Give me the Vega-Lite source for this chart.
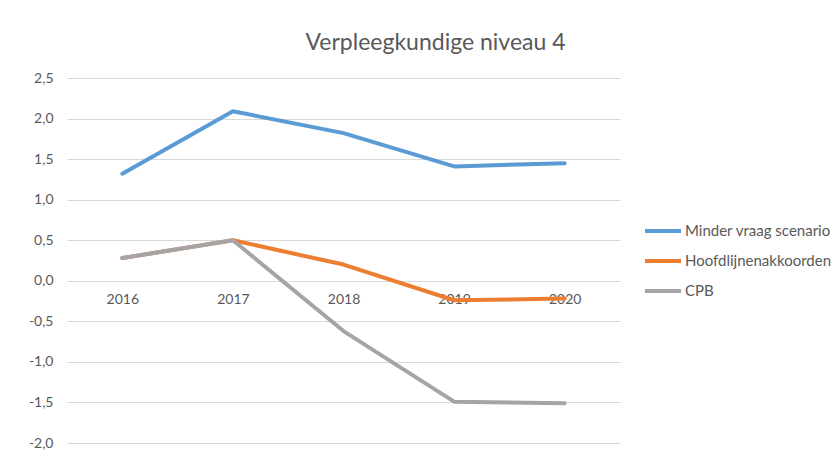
{
  "$schema": "https://vega.github.io/schema/vega-lite/v6.json",
  "width": 553,
  "height": 365,
  "autosize": "none",
  "padding": {"left": 67, "top": 78, "right": 212, "bottom": 13},
  "background": "white",
  "title": {
    "text": "Verpleegkundige niveau 4",
    "anchor": "middle",
    "dx": 92,
    "offset": 16,
    "font": "Lato",
    "fontSize": 23,
    "fontWeight": "normal",
    "color": "#595959"
  },
  "config": {
    "view": {"stroke": null},
    "font": "Lato"
  },
  "data": {
    "values": [
      {"jaar": "2016", "reeks": "Minder vraag scenario", "waarde": 1.32},
      {"jaar": "2017", "reeks": "Minder vraag scenario", "waarde": 2.09},
      {"jaar": "2018", "reeks": "Minder vraag scenario", "waarde": 1.82},
      {"jaar": "2019", "reeks": "Minder vraag scenario", "waarde": 1.41},
      {"jaar": "2020", "reeks": "Minder vraag scenario", "waarde": 1.45},
      {"jaar": "2016", "reeks": "Hoofdlijnenakkoorden", "waarde": 0.28},
      {"jaar": "2017", "reeks": "Hoofdlijnenakkoorden", "waarde": 0.5},
      {"jaar": "2018", "reeks": "Hoofdlijnenakkoorden", "waarde": 0.2},
      {"jaar": "2019", "reeks": "Hoofdlijnenakkoorden", "waarde": -0.24},
      {"jaar": "2020", "reeks": "Hoofdlijnenakkoorden", "waarde": -0.22},
      {"jaar": "2016", "reeks": "CPB", "waarde": 0.28},
      {"jaar": "2017", "reeks": "CPB", "waarde": 0.5},
      {"jaar": "2018", "reeks": "CPB", "waarde": -0.62},
      {"jaar": "2019", "reeks": "CPB", "waarde": -1.49},
      {"jaar": "2020", "reeks": "CPB", "waarde": -1.51}
    ]
  },
  "mark": {"type": "line", "strokeWidth": 4, "strokeCap": "round", "strokeJoin": "round"},
  "encoding": {
    "x": {
      "field": "jaar",
      "type": "ordinal",
      "scale": {"type": "point", "padding": 0.5},
      "axis": {
        "title": null,
        "orient": "bottom",
        "offset": -162,
        "domain": false,
        "ticks": false,
        "labelAngle": 0,
        "labelPadding": 11,
        "labelFont": "Lato",
        "labelFontSize": 14,
        "labelColor": "#595959"
      }
    },
    "y": {
      "field": "waarde",
      "type": "quantitative",
      "scale": {"domain": [-2, 2.5], "nice": false, "zero": false},
      "axis": {
        "title": null,
        "values": [-2, -1.5, -1, -0.5, 0, 0.5, 1, 1.5, 2, 2.5],
        "labelExpr": "replace(replace(format(datum.value, '.1f'), '.', ','), '−', '-')",
        "domain": false,
        "ticks": false,
        "grid": true,
        "gridColor": "#D9D9D9",
        "gridWidth": 1,
        "labelPadding": 14,
        "labelFont": "Lato",
        "labelFontSize": 14,
        "labelColor": "#595959"
      }
    },
    "color": {
      "field": "reeks",
      "type": "nominal",
      "sort": ["Minder vraag scenario", "Hoofdlijnenakkoorden", "CPB"],
      "scale": {
        "domain": ["Minder vraag scenario", "Hoofdlijnenakkoorden", "CPB"],
        "range": ["#5B9BD5", "#ED7D31", "#A5A5A5"]
      },
      "legend": {
        "title": null,
        "orient": "none",
        "legendX": 588,
        "legendY": 145,
        "symbolType": "M-3,0H3",
        "symbolSize": 144,
        "symbolStrokeWidth": 4,
        "symbolFillColor": null,
        "labelOffset": 14,
        "rowPadding": 14,
        "labelFont": "Lato",
        "labelFontSize": 15,
        "labelColor": "#595959"
      }
    },
    "order": {"field": "reeks"}
  }
}
